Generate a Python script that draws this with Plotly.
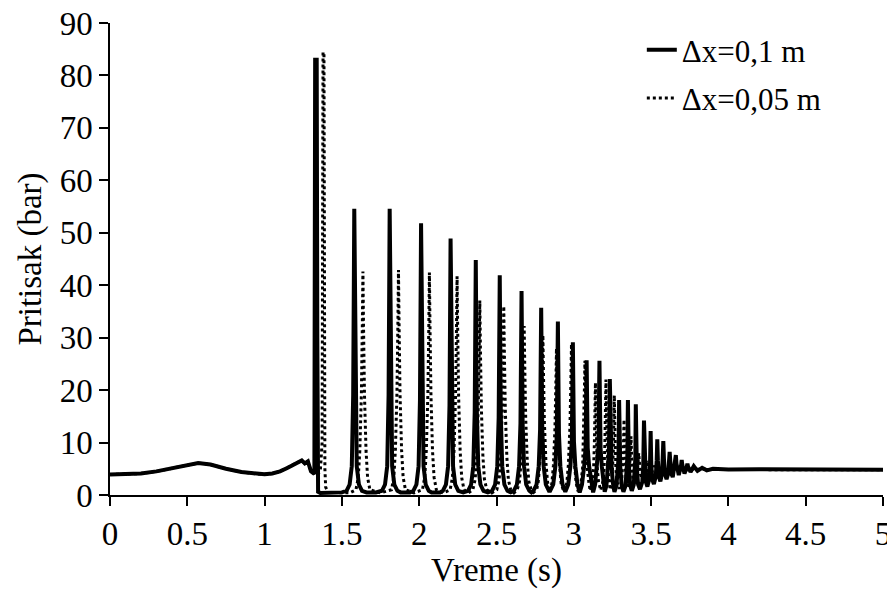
import plotly.graph_objects as go

# ---- data (time in s, pressure in bar) ----
# pre-surge part, common to both discretisations
pre_t = [0.00, 0.10, 0.20, 0.30, 0.40, 0.50, 0.57, 0.65, 0.75, 0.85, 0.95, 1.00, 1.05, 1.10,
         1.15, 1.20, 1.24, 1.26, 1.28, 1.30, 1.315]
pre_p = [3.9, 3.95, 4.1, 4.5, 5.1, 5.8, 6.1, 5.8, 5.0, 4.4, 4.0, 3.95, 4.1, 4.5,
         5.2, 6.0, 6.6, 6.0, 6.4, 4.5, 4.2]

# dx = 0.1 m (solid)
solid_t = [1.322, 1.327, 1.337, 1.341, 1.346, 1.36, 1.50,
           1.530, 1.550, 1.564, 1.573, 1.580, 1.587, 1.596, 1.610, 1.630, 1.66, 1.72,
           1.759, 1.779, 1.793, 1.802, 1.809, 1.816, 1.825, 1.839, 1.859, 1.88, 1.94,
           1.962, 1.982, 1.996, 2.005, 2.012, 2.019, 2.028, 2.042, 2.062, 2.08, 2.135,
           2.153, 2.173, 2.187, 2.196, 2.203, 2.210, 2.219, 2.233, 2.253, 2.285,
           2.316, 2.336, 2.350, 2.359, 2.366, 2.373, 2.382, 2.396, 2.416, 2.444,
           2.471, 2.491, 2.505, 2.514, 2.521, 2.528, 2.537, 2.551, 2.571, 2.592,
           2.612, 2.632, 2.646, 2.655, 2.662, 2.669, 2.678, 2.692, 2.712, 2.726,
           2.739, 2.759, 2.773, 2.782, 2.789, 2.796, 2.805, 2.819, 2.839,
           2.847, 2.867, 2.881, 2.890, 2.897, 2.904, 2.913, 2.927, 2.945,
           2.964, 2.978, 2.987, 2.994, 3.001, 3.010, 3.024, 3.038,
           3.053, 3.067, 3.076, 3.083, 3.090, 3.099, 3.113, 3.125,
           3.138, 3.151, 3.159, 3.166, 3.173, 3.181, 3.192, 3.200,
           3.211, 3.221, 3.227, 3.233, 3.239, 3.245, 3.255, 3.263,
           3.276, 3.285, 3.289, 3.293, 3.297, 3.301, 3.310, 3.321,
           3.335, 3.343, 3.346, 3.350, 3.354, 3.357, 3.365, 3.375,
           3.388, 3.395, 3.398, 3.401, 3.404, 3.408, 3.416, 3.428,
           3.443, 3.449, 3.454, 3.459, 3.466, 3.476,
           3.488, 3.493, 3.497, 3.501, 3.507, 3.518,
           3.530, 3.536, 3.540, 3.544, 3.550, 3.560,
           3.570, 3.575, 3.579, 3.583, 3.590, 3.600,
           3.612, 3.616, 3.620, 3.624, 3.630, 3.640,
           3.656, 3.660, 3.664, 3.679,
           3.694, 3.698, 3.702, 3.716,
           3.731, 3.735, 3.739, 3.755,
           3.776, 3.80, 3.83, 3.86, 3.90, 4.00, 4.20, 4.50, 4.80, 5.00]
solid_p = [4.0, 83.0, 83.0, 30.0, 0.6, 0.4, 0.5,
           0.8, 2.0, 5.5, 19.1, 54.6, 19.1, 5.5, 2.0, 0.8, 0.5, 0.5,
           0.8, 2.0, 5.5, 19.1, 54.6, 19.1, 5.5, 2.0, 0.8, 0.5, 0.5,
           0.8, 2.0, 5.5, 18.1, 51.8, 18.1, 5.5, 2.0, 0.8, 0.5, 0.5,
           0.8, 2.0, 5.5, 17.1, 48.9, 17.1, 5.5, 2.0, 0.8, 0.5,
           0.8, 2.0, 5.5, 15.7, 44.8, 15.7, 5.5, 2.0, 0.8, 0.5,
           0.8, 2.0, 5.5, 14.7, 41.9, 14.7, 5.5, 2.0, 0.8, 0.5,
           0.8, 2.0, 5.5, 13.6, 38.9, 13.6, 5.5, 2.0, 0.8, 0.5,
           0.8, 2.0, 5.5, 12.5, 35.7, 12.5, 5.5, 2.0, 0.8,
           0.8, 2.0, 5.5, 11.6, 33.1, 11.6, 5.5, 2.0, 0.6,
           2.0, 5.5, 10.2, 29.1, 10.2, 5.5, 2.0, 0.5,
           2.0, 5.5, 9.0, 25.7, 9.0, 5.5, 2.0, 0.5,
           2.0, 5.5, 9.0, 25.6, 9.0, 5.5, 2.0, 0.6,
           1.8, 5.0, 8.0, 22.1, 8.0, 5.0, 1.8, 0.6,
           1.8, 5.0, 7.0, 18.1, 7.0, 5.0, 1.8, 0.6,
           1.8, 5.0, 7.0, 18.1, 7.0, 5.0, 1.8, 0.8,
           2.0, 5.0, 7.0, 17.3, 7.0, 5.0, 2.0, 1.1,
           2.5, 5.5, 14.2, 5.5, 2.5, 1.6,
           3.0, 6.0, 12.2, 6.0, 3.0, 2.1,
           3.5, 6.5, 10.6, 6.5, 3.5, 2.6,
           4.0, 7.0, 10.3, 7.0, 4.0, 3.0,
           4.2, 6.5, 8.2, 6.5, 4.2, 3.4,
           6.0, 7.6, 6.0, 3.8,
           5.7, 6.7, 5.7, 4.1,
           5.4, 6.0, 5.4, 4.4,
           5.5, 4.6, 5.2, 4.7, 5.0, 4.85, 4.9, 4.85, 4.8, 4.8]

# dx = 0.05 m (dotted)
dotted_t = [1.32, 1.345, 1.36, 1.372, 1.378, 1.384, 1.39, 1.395, 1.41, 1.55,
            1.591, 1.606, 1.616, 1.626, 1.632, 1.636, 1.640, 1.646, 1.656, 1.666, 1.681, 1.75,
            1.821, 1.836, 1.846, 1.856, 1.862, 1.866, 1.870, 1.876, 1.886, 1.896, 1.911, 1.966,
            2.021, 2.036, 2.046, 2.056, 2.062, 2.066, 2.070, 2.076, 2.086, 2.096, 2.111, 2.155,
            2.200, 2.215, 2.225, 2.235, 2.241, 2.245, 2.249, 2.255, 2.265, 2.275, 2.290, 2.318,
            2.347, 2.362, 2.372, 2.382, 2.388, 2.392, 2.396, 2.402, 2.412, 2.422, 2.437, 2.470,
            2.502, 2.517, 2.527, 2.537, 2.543, 2.547, 2.551, 2.557, 2.567, 2.577, 2.592, 2.613,
            2.634, 2.649, 2.659, 2.669, 2.675, 2.679, 2.683, 2.689, 2.699, 2.709, 2.724, 2.740,
            2.760, 2.770, 2.780, 2.790, 2.796, 2.800, 2.804, 2.810, 2.820, 2.830, 2.844,
            2.858, 2.868, 2.878, 2.884, 2.888, 2.892, 2.898, 2.908, 2.918, 2.936,
            2.955, 2.965, 2.975, 2.981, 2.985, 2.989, 2.995, 3.005, 3.015, 3.028,
            3.047, 3.057, 3.064, 3.068, 3.072, 3.076, 3.080, 3.087, 3.097, 3.106,
            3.120, 3.128, 3.133, 3.137, 3.140, 3.143, 3.147, 3.152, 3.160, 3.174,
            3.188, 3.196, 3.201, 3.205, 3.208, 3.211, 3.215, 3.220, 3.228, 3.236,
            3.246, 3.252, 3.256, 3.259, 3.262, 3.265, 3.268, 3.272, 3.279, 3.294,
            3.310, 3.316, 3.320, 3.325, 3.330, 3.334, 3.340, 3.348,
            3.358, 3.364, 3.370, 3.376, 3.382, 3.395,
            3.410, 3.420, 3.430, 3.445,
            3.462, 3.470, 3.478, 3.495,
            3.520, 3.545, 3.57, 3.60, 3.65, 3.70, 3.80, 4.00, 4.50, 5.00]
dotted_p = [4.3, 4.2, 4.4, 10.0, 84.4, 84.4, 5.0, 1.5, 0.5, 0.4,
            1.0, 3.4, 8.5, 19.2, 32.0, 42.6, 32.0, 19.2, 8.5, 3.4, 1.0, 0.4,
            1.0, 3.4, 8.6, 19.3, 32.2, 42.9, 32.2, 19.3, 8.6, 3.4, 1.0, 0.4,
            1.0, 3.4, 8.5, 19.1, 31.8, 42.4, 31.8, 19.1, 8.5, 3.4, 1.0, 0.4,
            1.0, 3.3, 8.3, 18.8, 31.3, 41.7, 31.3, 18.8, 8.3, 3.3, 1.0, 0.4,
            1.0, 3.0, 7.4, 16.7, 27.8, 37.1, 27.8, 16.7, 7.4, 3.0, 1.0, 0.4,
            1.0, 2.9, 7.2, 16.2, 27.0, 36.0, 27.0, 16.2, 7.2, 2.9, 1.0, 0.4,
            1.0, 2.6, 6.4, 14.5, 24.2, 32.2, 24.2, 14.5, 6.4, 2.6, 1.0, 0.5,
            1.0, 2.5, 6.1, 13.7, 22.9, 30.5, 22.9, 13.7, 6.1, 2.5, 0.6,
            2.2, 5.6, 12.6, 21.0, 28.0, 21.0, 12.6, 5.6, 2.2, 0.6,
            2.3, 5.8, 13.0, 21.6, 28.8, 21.6, 13.0, 5.8, 2.3, 0.7,
            2.5, 5.1, 11.5, 19.2, 25.6, 19.2, 11.5, 5.1, 2.5, 0.8,
            2.5, 5.0, 9.6, 16.0, 21.4, 16.0, 9.6, 5.0, 2.5, 0.9,
            2.5, 5.0, 9.9, 16.5, 22.0, 16.5, 9.9, 5.0, 2.5, 1.0,
            2.5, 5.0, 8.6, 14.3, 19.0, 14.3, 8.6, 5.0, 2.5, 1.2,
            2.8, 5.0, 8.0, 14.4, 8.0, 5.0, 2.8, 1.6,
            3.0, 6.0, 11.2, 6.0, 3.0, 2.2,
            4.0, 8.0, 4.0, 2.8,
            4.5, 6.6, 4.5, 3.5,
            5.6, 4.1, 5.2, 4.5, 5.0, 4.7, 4.9, 4.85, 4.85, 4.8]

x_ticks = [0, 0.5, 1, 1.5, 2, 2.5, 3, 3.5, 4, 4.5, 5]
x_labels = ["0", "0.5", "1", "1.5", "2", "2.5", "3", "3.5", "4", "4.5", "5"]
y_ticks = [0, 10, 20, 30, 40, 50, 60, 70, 80, 90]
series_names = ["\u0394x=0,1 m", "\u0394x=0,05 m"]

FONT = "Liberation Serif, Times New Roman, serif"

fig = go.Figure()
fig.add_trace(go.Scatter(
    x=pre_t + solid_t, y=pre_p + solid_p, mode="lines", name=series_names[0],
    line=dict(color="black", width=4), legendgroup="a"))
fig.add_trace(go.Scatter(
    x=pre_t + dotted_t, y=pre_p + dotted_p, mode="lines", name=series_names[1],
    line=dict(color="black", width=3, dash="dot"), legendgroup="b"))

axis_common = dict(
    showline=True, linecolor="black", linewidth=1.5, showgrid=False, zeroline=False,
    ticks="outside", ticklen=9, tickwidth=1.5, tickcolor="black", automargin=False,
    ticklabeloverflow="allow",
    tickfont=dict(family=FONT, size=33, color="black"),
)
# the page body adds an 8 px offset, so the figure is 8 px smaller on each axis
fig.update_layout(
    width=887, height=583,
    margin=dict(l=102, r=12, t=15, b=96),
    paper_bgcolor="white", plot_bgcolor="white",
    font=dict(family=FONT, color="black"),
    xaxis=dict(range=[0, 5], tickvals=x_ticks, ticktext=x_labels,
               title=dict(text="Vreme (s)", font=dict(family=FONT, size=33), standoff=6),
               **axis_common),
    yaxis=dict(range=[0, 90], tickvals=y_ticks,
               title=dict(text="Pritisak (bar)", font=dict(family=FONT, size=33), standoff=8),
               **axis_common),
    legend=dict(x=0.688, y=1.0, xanchor="left", yanchor="top",
                font=dict(family=FONT, size=31, color="black"),
                bgcolor="rgba(0,0,0,0)", tracegroupgap=5),
    showlegend=True,
)
fig.write_html("out.html")
